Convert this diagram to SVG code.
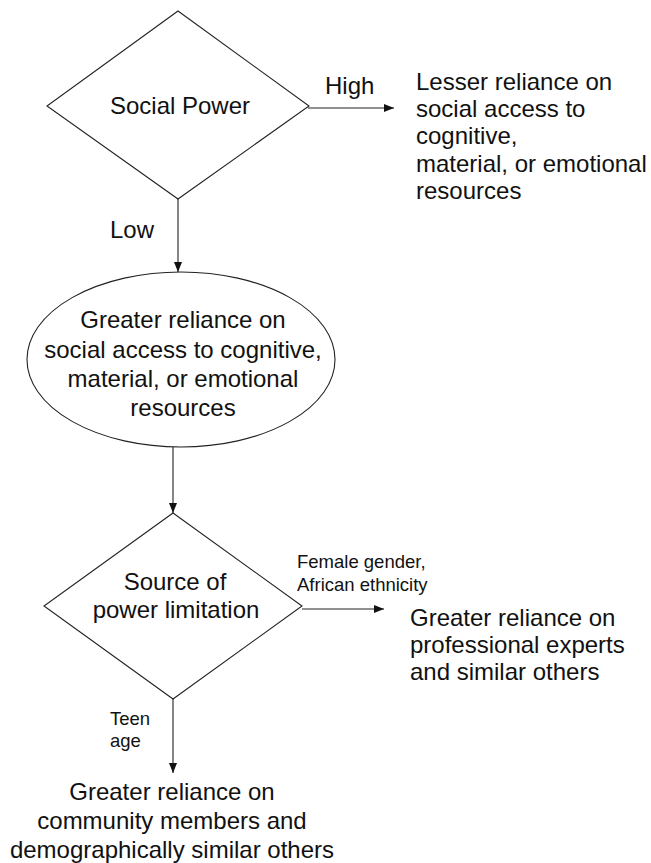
<svg xmlns="http://www.w3.org/2000/svg" width="651" height="863" viewBox="0 0 651 863">
  <style>
    text { font-family: "Liberation Sans", Arial, sans-serif; fill: #111; }
    .big { font-size: 24px; }
    .small { font-size: 18.5px; }
    .mid { text-anchor: middle; }
    .shape { fill: #fff; stroke: #222; stroke-width: 1.1; }
    .edge { fill: none; stroke: #222; stroke-width: 1.1; marker-end: url(#arrow); }
  </style>
  <defs>
    <marker id="arrow" viewBox="0 0 10 10" refX="10" refY="5" markerWidth="10" markerHeight="10" markerUnits="userSpaceOnUse" orient="auto">
      <path d="M0,1 L10,5 L0,9 Z" fill="#111"/>
    </marker>
  </defs>
  <rect width="651" height="863" fill="#fff"/>

  <g id="connectors">
    <line class="edge" x1="308" y1="108" x2="394" y2="108"/>
    <line class="edge" x1="178" y1="199" x2="178" y2="272"/>
    <line class="edge" x1="173" y1="447" x2="173" y2="513"/>
    <line class="edge" x1="302" y1="609" x2="384" y2="609"/>
    <line class="edge" x1="173" y1="699" x2="173" y2="773"/>
    <text class="big" x="325" y="94">High</text>
    <text class="big" x="110" y="238">Low</text>
    <text class="small" x="297" y="568">Female gender,</text>
    <text class="small" x="297" y="591">African ethnicity</text>
    <text class="small" x="110" y="725">Teen</text>
    <text class="small" x="110" y="747">age</text>
  </g>

  <g id="social-power">
    <polygon class="shape" points="178,11 309,106 178,199 47,106"/>
    <text class="big mid" x="180" y="114">Social Power</text>
  </g>

  <g id="lesser-reliance">
    <text class="big" x="416" y="90">Lesser reliance on</text>
    <text class="big" x="416" y="117">social access to</text>
    <text class="big" x="416" y="144">cognitive,</text>
    <text class="big" x="416" y="172">material, or emotional</text>
    <text class="big" x="416" y="199">resources</text>
  </g>

  <g id="greater-reliance">
    <ellipse class="shape" cx="181" cy="359.5" rx="154" ry="87.5"/>
    <text class="big mid" x="183" y="328">Greater reliance on</text>
    <text class="big mid" x="183" y="358">social access to cognitive,</text>
    <text class="big mid" x="183" y="387">material, or emotional</text>
    <text class="big mid" x="183" y="416">resources</text>
  </g>

  <g id="power-limitation">
    <polygon class="shape" points="173,513 302,606 173,699 44,606"/>
    <text class="big mid" x="175" y="590">Source of</text>
    <text class="big mid" x="176" y="618">power limitation</text>
  </g>

  <g id="professional-experts">
    <text class="big" x="410" y="626">Greater reliance on</text>
    <text class="big" x="410" y="653">professional experts</text>
    <text class="big" x="410" y="680">and similar others</text>
  </g>

  <g id="community-members">
    <text class="big mid" x="172" y="800">Greater reliance on</text>
    <text class="big mid" x="172" y="829">community members and</text>
    <text class="big mid" x="172" y="858">demographically similar others</text>
  </g>
</svg>
